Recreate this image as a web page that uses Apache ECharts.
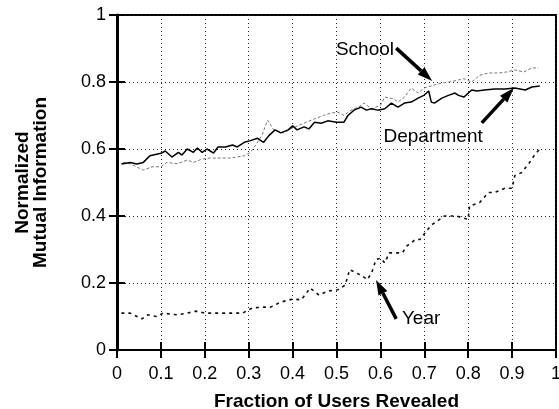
<!DOCTYPE html>
<html>
<head>
<meta charset="utf-8">
<script src="https://cdn.jsdelivr.net/npm/echarts@6/dist/echarts.min.js"></script>
<style>
  html, body { margin: 0; padding: 0; background: #fff; }
  #chart { width: 559px; height: 409px; }
</style>
</head>
<body>
<div id="chart"></div>
<script>
// values
const xTicks = [0, 0.1, 0.2, 0.3, 0.4, 0.5, 0.6, 0.7, 0.8, 0.9, 1];
const yTicks = [0, 0.2, 0.4, 0.6, 0.8, 1];

const deptX = [0.01, 0.03, 0.045, 0.06, 0.075, 0.1, 0.11, 0.125, 0.14, 0.148, 0.16, 0.174, 0.183, 0.194, 0.205, 0.22, 0.23, 0.247, 0.263, 0.274, 0.29, 0.304, 0.32, 0.334, 0.346, 0.36, 0.373, 0.39, 0.4, 0.41, 0.426, 0.437, 0.45, 0.465, 0.48, 0.5, 0.517, 0.526, 0.54, 0.556, 0.568, 0.58, 0.594, 0.61, 0.625, 0.64, 0.655, 0.67, 0.686, 0.7, 0.71, 0.716, 0.723, 0.74, 0.755, 0.77, 0.778, 0.79, 0.808, 0.82, 0.837, 0.86, 0.884, 0.906, 0.93, 0.945, 0.963];
const deptY = [0.555, 0.56, 0.555, 0.56, 0.58, 0.587, 0.594, 0.576, 0.59, 0.582, 0.6, 0.59, 0.603, 0.59, 0.6, 0.588, 0.606, 0.606, 0.612, 0.606, 0.62, 0.625, 0.632, 0.62, 0.64, 0.657, 0.648, 0.657, 0.669, 0.657, 0.666, 0.66, 0.68, 0.677, 0.684, 0.68, 0.68, 0.7, 0.716, 0.725, 0.716, 0.72, 0.716, 0.72, 0.737, 0.725, 0.737, 0.74, 0.752, 0.761, 0.773, 0.74, 0.737, 0.752, 0.76, 0.767, 0.76, 0.755, 0.776, 0.773, 0.776, 0.779, 0.779, 0.782, 0.776, 0.785, 0.788];

const schoolX = [0.014, 0.03, 0.06, 0.08, 0.1, 0.114, 0.137, 0.16, 0.174, 0.194, 0.213, 0.236, 0.26, 0.29, 0.304, 0.316, 0.33, 0.343, 0.357, 0.38, 0.4, 0.426, 0.45, 0.47, 0.487, 0.503, 0.517, 0.533, 0.55, 0.563, 0.58, 0.6, 0.61, 0.63, 0.64, 0.655, 0.67, 0.686, 0.7, 0.72, 0.74, 0.757, 0.778, 0.79, 0.808, 0.826, 0.846, 0.87, 0.888, 0.906, 0.927, 0.945, 0.96];
const schoolY = [0.56, 0.556, 0.537, 0.547, 0.547, 0.56, 0.556, 0.567, 0.56, 0.57, 0.573, 0.573, 0.573, 0.58, 0.59, 0.612, 0.64, 0.686, 0.657, 0.648, 0.663, 0.677, 0.69, 0.7, 0.707, 0.71, 0.7, 0.716, 0.725, 0.737, 0.72, 0.73, 0.755, 0.75, 0.74, 0.755, 0.782, 0.767, 0.782, 0.79, 0.797, 0.8, 0.806, 0.81, 0.8, 0.82, 0.827, 0.827, 0.83, 0.836, 0.83, 0.842, 0.842];

const yearX = [0.01, 0.03, 0.057, 0.07, 0.09, 0.105, 0.137, 0.16, 0.18, 0.2, 0.23, 0.26, 0.286, 0.3, 0.31, 0.335, 0.35, 0.373, 0.4, 0.42, 0.44, 0.46, 0.48, 0.503, 0.52, 0.53, 0.545, 0.56, 0.57, 0.58, 0.59, 0.6, 0.61, 0.62, 0.636, 0.65, 0.66, 0.68, 0.69, 0.716, 0.746, 0.773, 0.8, 0.803, 0.826, 0.846, 0.86, 0.884, 0.9, 0.906, 0.922, 0.94, 0.95, 0.963];
const yearY = [0.11, 0.11, 0.093, 0.105, 0.1, 0.11, 0.105, 0.11, 0.116, 0.11, 0.11, 0.11, 0.11, 0.12, 0.126, 0.128, 0.128, 0.143, 0.152, 0.15, 0.185, 0.164, 0.176, 0.18, 0.194, 0.24, 0.23, 0.22, 0.21, 0.23, 0.27, 0.274, 0.26, 0.29, 0.29, 0.29, 0.31, 0.33, 0.33, 0.373, 0.4, 0.4, 0.39, 0.43, 0.44, 0.47, 0.47, 0.483, 0.483, 0.52, 0.53, 0.56, 0.58, 0.6];

// annotation: text anchor, arrow tail, arrow head (data coords)
const noteText = ["School", "Department", "Year"];
const noteAt = [[0.631, 0.896], [0.607, 0.636], [0.649, 0.093]];
const noteAlign = ["right", "left", "left"];
const arrowFrom = [[0.636, 0.901], [0.831, 0.678], [0.636, 0.093]];
const arrowTo = [[0.718, 0.803], [0.904, 0.782], [0.590, 0.209]];

const zip = (xs, ys) => xs.map((x, i) => [x, ys[i]]);

const FONT = "Liberation Sans, Arial, Helvetica, sans-serif";

const chart = echarts.init(document.getElementById("chart"));

const gridLine = { show: true, lineStyle: { color: "#222", width: 1, type: [1, 3] } };

const option = {
	animation: false,
	grid: {
		left: 117, right: 3, top: 15, bottom: 59,
		outerBoundsMode: "none", containLabel: false,
		show: true, borderColor: "#000", borderWidth: 2,
	},
	xAxis: [
		{
			type: "value", min: 0, max: 1, interval: 0.1,
			axisLine: { show: true, lineStyle: { color: "#000", width: 2 } },
			axisTick: { show: true, inside: true, length: 8, lineStyle: { color: "#000", width: 2 } },
			axisLabel: { color: "#000", fontSize: 18, fontFamily: FONT, margin: 15, formatter: (v) => String(+v.toFixed(1)) },
			splitLine: gridLine,
			name: "Fraction of Users Revealed",
			nameLocation: "middle",
			nameGap: 42,
			nameTextStyle: { color: "#000", fontSize: 19, fontWeight: "bold", fontFamily: FONT },
		},
		{
			type: "value", min: 0, max: 1, interval: 0.1, position: "top",
			axisLine: { show: true, lineStyle: { color: "#000", width: 2 } },
			axisTick: { show: true, inside: true, length: 8, lineStyle: { color: "#000", width: 2 } },
			axisLabel: { show: false },
			splitLine: { show: false },
		},
	],
	yAxis: [
		{
			type: "value", min: 0, max: 1, interval: 0.2,
			axisLine: { show: true, lineStyle: { color: "#000", width: 3 } },
			axisTick: { show: true, inside: true, length: 8, lineStyle: { color: "#000", width: 2 } },
			axisLabel: { color: "#000", fontSize: 18, fontFamily: FONT, margin: 11, formatter: (v) => String(+v.toFixed(1)) },
			splitLine: gridLine,
			name: "Normalized\nMutual Information",
			nameLocation: "middle",
			nameRotate: 90,
			nameGap: 67,
			nameTextStyle: { color: "#000", fontSize: 19, lineHeight: 18, fontWeight: "bold", fontFamily: FONT },
		},
		{
			type: "value", min: 0, max: 1, interval: 0.2, position: "right",
			axisLine: { show: true, lineStyle: { color: "#000", width: 2 } },
			axisTick: { show: true, inside: true, length: 8, lineStyle: { color: "#000", width: 2 } },
			axisLabel: { show: false },
			splitLine: { show: false },
		},
	],
	series: [
		{
			name: "School", type: "line", data: zip(schoolX, schoolY), showSymbol: false,
			lineStyle: { color: "#777", width: 1, type: [3, 2] },
		},
		{
			name: "Department", type: "line", data: zip(deptX, deptY), showSymbol: false,
			lineStyle: { color: "#000", width: 1.5 },
		},
		{
			name: "Year", type: "line", data: zip(yearX, yearY), showSymbol: false,
			lineStyle: { color: "#111", width: 1.6, type: [3, 4] },
		},
	],
};

chart.setOption(option);

// arrows and labels placed in data space
const graphics = [];
noteText.forEach((t, i) => {
	const p = chart.convertToPixel({ gridIndex: 0 }, noteAt[i]);
	graphics.push({
		type: "text", x: p[0], y: p[1],
		style: { text: t, fill: "#000", fontSize: 19, fontFamily: FONT, align: noteAlign[i], verticalAlign: "middle" },
	});
	const a = chart.convertToPixel({ gridIndex: 0 }, arrowFrom[i]);
	const b = chart.convertToPixel({ gridIndex: 0 }, arrowTo[i]);
	const dx = b[0] - a[0], dy = b[1] - a[1];
	const len = Math.hypot(dx, dy);
	const ux = dx / len, uy = dy / len;
	const hl = 15, hw = 5;
	const bx = b[0] - ux * hl, by = b[1] - uy * hl;
	graphics.push({
		type: "line",
		shape: { x1: a[0], y1: a[1], x2: bx, y2: by },
		style: { stroke: "#000", lineWidth: 3.5 },
	});
	graphics.push({
		type: "polygon",
		shape: { points: [b, [bx - uy * hw, by + ux * hw], [bx + uy * hw, by - ux * hw]] },
		style: { fill: "#000" },
	});
});
chart.setOption({ graphic: graphics });
</script>
</body>
</html>
